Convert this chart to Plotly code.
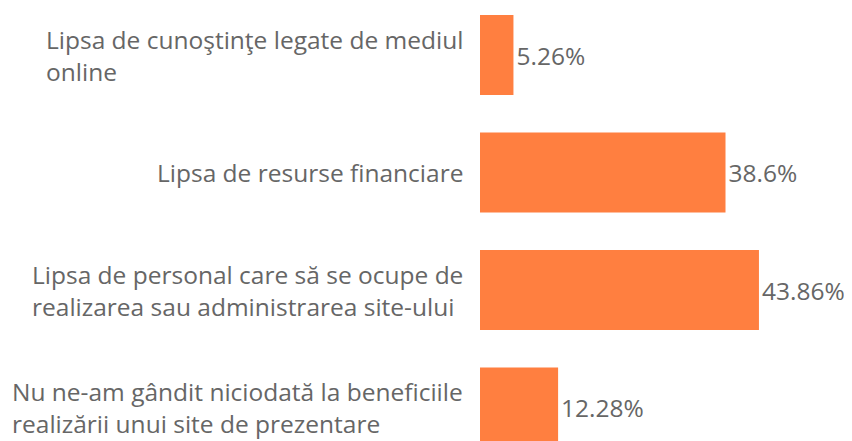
import plotly.graph_objects as go

bar_color = "#FF7F40"
text_color = "#666666"
font_name = "Open Sans"
font_size = 24.5

categorii = [
    "Lipsa de cunoştinţe legate de mediul<br>online",
    "Lipsa de resurse financiare",
    "Lipsa de personal care să se ocupe de<br>realizarea sau administrarea site-ului",
    "Nu ne-am gândit niciodată la beneficiile<br>realizării unui site de prezentare",
]
procente = [5.26, 38.6, 43.86, 12.28]
etichete = ["5.26%", "38.6%", "43.86%", "12.28%"]

fig = go.Figure(go.Bar(
    y=categorii, x=procente, orientation="h",
    text=etichete, textposition="outside", cliponaxis=False,
    textfont=dict(family=font_name, size=font_size, color=text_color),
    marker=dict(color=bar_color, line=dict(width=0)),
    width=0.68,
))

# etichetele categoriilor: aliniate la stanga in bloc, blocul lipit de bare
for cat in categorii:
    fig.add_annotation(
        x=0, xref="paper", y=cat, yref="y",
        text=cat, showarrow=False, align="left",
        xanchor="right", yanchor="middle", xshift=-15,
        font=dict(family=font_name, size=font_size, color=text_color),
    )

# pagina are margine de 8px in body, asa ca figura e 844x433
fig.update_layout(
    width=844, height=433,
    plot_bgcolor="white", paper_bgcolor="white",
    margin=dict(l=472, r=54, t=0, b=0),
    showlegend=False,
    xaxis=dict(range=[0, 50], visible=False, fixedrange=True),
    yaxis=dict(
        categoryorder="array", categoryarray=categorii,
        range=[3.285, -0.4], showticklabels=False,
        showgrid=False, zeroline=False, fixedrange=True,
    ),
)

fig.write_html("out.html", config={"displayModeBar": False})
